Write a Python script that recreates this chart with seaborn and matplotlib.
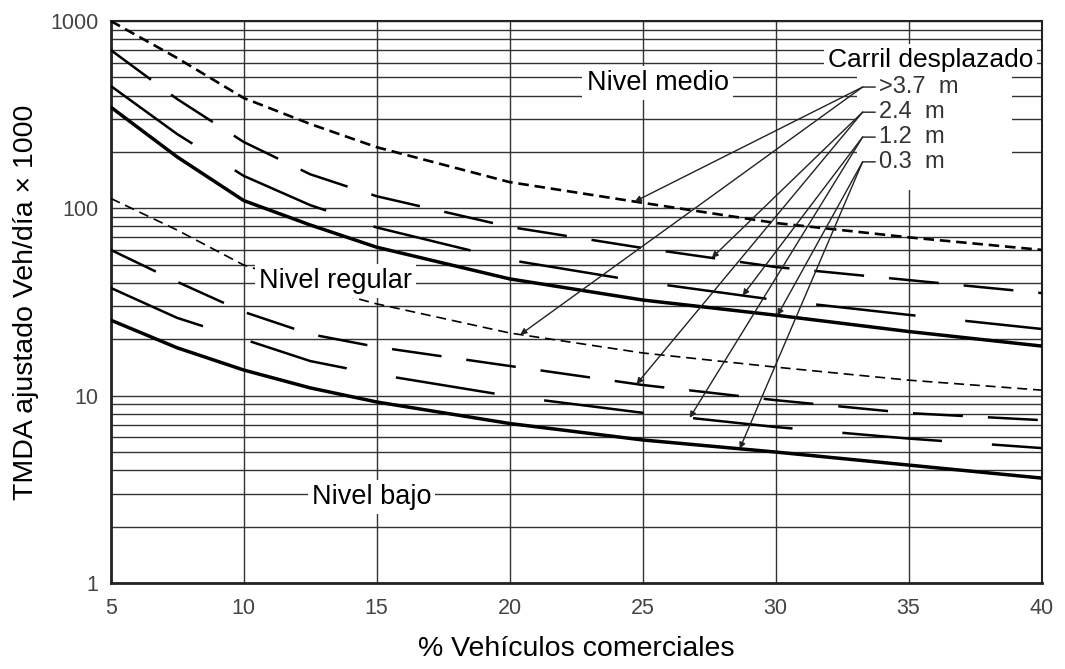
import matplotlib
matplotlib.use("Agg")
import matplotlib.pyplot as plt
from matplotlib.ticker import LogLocator, MultipleLocator, NullFormatter
from matplotlib.patches import Rectangle
import seaborn as sns
import numpy as np

# % vehiculos comerciales (eje x)
pct = [5, 7.5, 10, 12.5, 15, 20, 25, 30, 35, 40]

# Nivel medio (TMDA x 1000), por ancho de carril desplazado
medio_37 = [1000, 634, 388, 282, 212, 138, 107, 83.5, 70, 60]
medio_24 = [700, 383, 226, 152, 116, 79.6, 61.4, 48.6, 41.4, 35.3]
medio_12 = [450, 249, 149, 104, 79, 53, 40.5, 32.4, 27, 22.7]
medio_03 = [347, 188, 110, 81.5, 62, 42, 32.4, 26.9, 22, 18.4]

# Nivel regular
regular_37 = [113, 76.5, 49.8, 38.5, 30.9, 21.6, 16.9, 14.2, 12.1, 10.7]
regular_24 = [60, 40.5, 28, 21.3, 18.2, 14.4, 11.4, 9.46, 8.07, 7.4]
regular_12 = [37.6, 26, 20, 15.3, 13.0, 9.95, 8.1, 6.8, 5.9, 5.25]
regular_03 = [25.3, 18, 13.7, 11.0, 9.25, 7.1, 5.8, 5.0, 4.26, 3.63]

carril_labels = [">3.7  m", "2.4  m", "1.2  m", "0.3  m"]
# punto donde llega cada flecha (x) para nivel medio / nivel regular
flecha_x_medio = [24.7, 27.6, 28.76, 30.07]
flecha_x_regular = [20.4, 24.77, 26.77, 28.65]

sns.set_theme(style="white")
plt.rcParams['font.family'] = ['Liberation Sans', 'DejaVu Sans']
plt.rcParams['text.color'] = 'black'
plt.rcParams['axes.labelcolor'] = 'black'

fig = plt.figure(figsize=(10.65, 6.69), dpi=100)
ax = fig.add_axes([0.104, 0.1286, 0.874, 0.84])

# estilos de linea: (ancho, patron)
estilos = [
    (1.9, (0, (4, 2.2))),
    (1.8, (0, (20, 10))),
    (1.8, (0, (40, 20))),
    (2.5, "-"),
]
estilos_reg = [
    (1.2, (0, (6, 3.5))),
    (1.8, (0, (20, 10))),
    (1.8, (0, (40, 20))),
    (2.5, "-"),
]

medio = [medio_37, medio_24, medio_12, medio_03]
regular = [regular_37, regular_24, regular_12, regular_03]

for serie, (lw, ls) in zip(medio, estilos):
    sns.lineplot(x=pct, y=serie, ax=ax, color="black", lw=lw, linestyle=ls, zorder=3)
for serie, (lw, ls) in zip(regular, estilos_reg):
    sns.lineplot(x=pct, y=serie, ax=ax, color="black", lw=lw, linestyle=ls, zorder=3)

ax.set_yscale("log")
ax.set_xlim(5, 40)
ax.set_ylim(1, 1000)

ax.set_yticks([1, 10, 100, 1000])
ax.set_yticklabels(["1", "10", "100", "1000"])
ax.yaxis.set_minor_locator(LogLocator(base=10, subs=range(2, 10)))
ax.yaxis.set_minor_formatter(NullFormatter())
ax.set_xticks(range(5, 41, 5))
ax.xaxis.set_minor_locator(MultipleLocator(1))

ax.tick_params(axis="both", which="major", length=6, width=1.2, color="#333333",
               labelsize=15.5, labelcolor="#444444", pad=3, direction="out")
ax.tick_params(axis="y", which="minor", length=0)
ax.tick_params(axis="x", which="minor", direction="in", length=6, width=1.2, color="#333333")
ax.tick_params(axis="x", which="major", pad=5)

ax.grid(True, which="both", axis="y", color="#333333", lw=1.0)
ax.grid(True, which="major", axis="x", color="#333333", lw=1.0)
ax.set_axisbelow(True)

for lado, sp in ax.spines.items():
    sp.set_color("#222222")
    sp.set_linewidth(2.0 if lado in ("left", "bottom") else 1.5)

# zona blanca para las etiquetas de carril desplazado
ax.add_patch(Rectangle((33.05, 125), 38.9 - 33.05, 561 - 125, facecolor="white",
                       edgecolor="none", zorder=1.5))

caja = dict(boxstyle="square,pad=0.15", facecolor="white", edgecolor="none")
ax.text(25.56, 467, "Nivel medio", fontsize=19.5, ha="center", va="center", bbox=caja, zorder=4)
ax.text(13.46, 40.9, "Nivel regular", fontsize=19.5, ha="center", va="center", bbox=caja, zorder=4)
ax.text(14.81, 2.88, "Nivel bajo", fontsize=19.5, ha="center", va="center", bbox=caja, zorder=4)
ax.text(35.83, 619, "Carril desplazado", fontsize=19, ha="center", va="center", bbox=caja, zorder=4)

hub_x = 33.27
hub_y = [444, 326, 240, 177]
for lab, hy, xm, xr, sm, sr in zip(carril_labels, hub_y, flecha_x_medio, flecha_x_regular,
                                   medio, regular):
    ax.annotate(lab, xy=(hub_x, hy), xytext=(hub_x + 0.6, hy), fontsize=17,
                color="#333333", va="center", ha="left",
                arrowprops=dict(arrowstyle="-", color="#222222", lw=1.0,
                                shrinkA=0, shrinkB=0), zorder=4)
    for xt, serie in ((xm, sm), (xr, sr)):
        yt = 10 ** np.interp(xt, pct, np.log10(serie))
        ax.annotate("", xy=(xt, yt), xytext=(hub_x, hy),
                    arrowprops=dict(arrowstyle="-|>", color="#222222", lw=1.0,
                                    mutation_scale=9, shrinkA=0, shrinkB=0), zorder=4)

ax.set_xlabel("% Vehículos comerciales", fontsize=20.5, labelpad=12)
ax.set_ylabel("TMDA ajustado Veh/día × 1000", fontsize=20.5, labelpad=8)

fig.savefig("out.png", dpi=100)
